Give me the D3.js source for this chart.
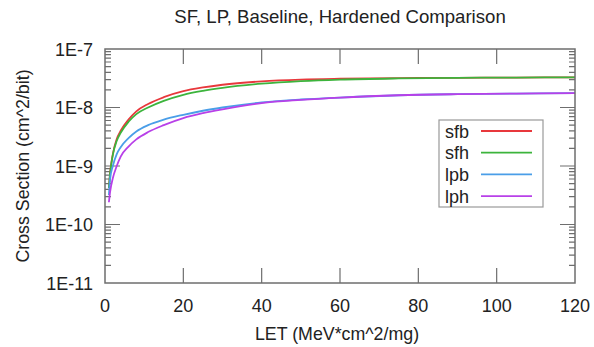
<!DOCTYPE html>
<html lang="en">
<head>
  <meta charset="utf-8">
  <title>SF, LP, Baseline, Hardened Comparison</title>
  <script src="https://d3js.org/d3.v7.min.js"></script>
  <style>
    body { margin: 0; background: #fff; }
    text { font-family: "Liberation Sans", Arial, Helvetica, sans-serif; fill: #222; }
  </style>
</head>
<body>
  <script>
    var letValues = [1, 1.3, 2, 3, 4, 6, 8, 11, 15, 20, 25, 30, 40, 50, 60, 75, 90, 105, 120];

    // cross sections (cm^2/bit), one list per series
    var sfb = [4.2e-10, 7.6e-10, 1.6e-9, 2.9e-9, 4.0e-9, 6.2e-9, 8.6e-9, 1.15e-8, 1.5e-8, 1.9e-8, 2.2e-8, 2.45e-8, 2.8e-8, 3.0e-8, 3.1e-8, 3.18e-8, 3.22e-8, 3.25e-8, 3.27e-8];
    var sfh = [4.2e-10, 7.4e-10, 1.55e-9, 2.7e-9, 3.7e-9, 5.7e-9, 7.7e-9, 1.0e-8, 1.3e-8, 1.65e-8, 1.93e-8, 2.17e-8, 2.55e-8, 2.82e-8, 3.0e-8, 3.14e-8, 3.21e-8, 3.25e-8, 3.27e-8];
    var lpb = [3.2e-10, 6.0e-10, 1.0e-9, 1.6e-9, 2.1e-9, 3.0e-9, 3.9e-9, 5.0e-9, 6.2e-9, 7.5e-9, 8.8e-9, 1.0e-8, 1.22e-8, 1.37e-8, 1.48e-8, 1.62e-8, 1.69e-8, 1.73e-8, 1.76e-8];
    var lph = [2.4e-10, 3.6e-10, 6.2e-10, 1.0e-9, 1.45e-9, 2.15e-9, 2.85e-9, 3.8e-9, 5.0e-9, 6.6e-9, 8.0e-9, 9.3e-9, 1.19e-8, 1.35e-8, 1.48e-8, 1.62e-8, 1.69e-8, 1.73e-8, 1.76e-8];

    var seriesNames = ["sfb", "sfh", "lpb", "lph"];
    var seriesColors = ["#e8383c", "#3cb43c", "#4a9ee8", "#b840e8"];
    var seriesData = [sfb, sfh, lpb, lph];

    var xTicks = [0, 20, 40, 60, 80, 100, 120];
    var yTicks = [1e-11, 1e-10, 1e-9, 1e-8, 1e-7];
    var yTickLabels = ["1E-11", "1E-10", "1E-9", "1E-8", "1E-7"];

    var width = 594;
    var height = 347;
    var margin = { left: 105, right: 19, top: 49, bottom: 64 };

    var svg = d3.select("body")
      .append("svg")
      .attr("width", width)
      .attr("height", height);

    svg.append("rect").attr("width", width).attr("height", height).attr("fill", "#fff");

    var x = d3.scaleLinear()
      .domain([0, 120])
      .range([margin.left, width - margin.right]);

    var y = d3.scaleLog()
      .domain([1e-11, 1e-7])
      .range([height - margin.bottom, margin.top]);

    var axisColor = "#6e6e6e";
    var majorLen = 15, minorLen = 6;

    // minor log ticks 2..9 in every decade
    var minorTicks = [];
    yTicks.slice(0, -1).forEach(function (d) {
      for (var k = 2; k <= 9; k++) minorTicks.push(d * k);
    });

    var ticks = svg.append("g").attr("stroke", axisColor).attr("stroke-width", 1.2);

    // x ticks, bottom and top (inward)
    ticks.selectAll(".xt").data(xTicks.slice(1, -1)).enter().append("path")
      .attr("d", function (d) {
        return "M" + x(d) + "," + y.range()[0] + "v" + (-majorLen) +
               "M" + x(d) + "," + y.range()[1] + "v" + majorLen;
      });

    // y major ticks, left and right
    ticks.selectAll(".yt").data(yTicks.slice(1, -1)).enter().append("path")
      .attr("d", function (d) {
        return "M" + x.range()[0] + "," + y(d) + "h" + majorLen +
               "M" + x.range()[1] + "," + y(d) + "h" + (-majorLen);
      });

    // y minor ticks
    ticks.selectAll(".ym").data(minorTicks).enter().append("path")
      .attr("d", function (d) {
        return "M" + x.range()[0] + "," + y(d) + "h" + minorLen +
               "M" + x.range()[1] + "," + y(d) + "h" + (-minorLen);
      });

    // curves
    var line = d3.line()
      .x(function (d) { return x(d[0]); })
      .y(function (d) { return y(d[1]); })
      .curve(d3.curveMonotoneX);

    var plot = svg.append("g");
    seriesData.forEach(function (vals, i) {
      plot.append("path")
        .datum(letValues.map(function (v, j) { return [v, vals[j]]; }))
        .attr("fill", "none")
        .attr("stroke", seriesColors[i])
        .attr("stroke-width", 1.8)
        .attr("d", line);
    });

    // border
    svg.append("rect")
      .attr("x", x.range()[0])
      .attr("y", y.range()[1])
      .attr("width", x.range()[1] - x.range()[0])
      .attr("height", y.range()[0] - y.range()[1])
      .attr("fill", "none")
      .attr("stroke", axisColor)
      .attr("stroke-width", 1.5);

    // tick labels
    svg.selectAll(".xl").data(xTicks).enter().append("text")
      .attr("x", function (d) { return x(d); })
      .attr("y", 312)
      .attr("text-anchor", "middle")
      .style("font-size", "18px")
      .text(function (d) { return d; });

    svg.selectAll(".yl").data(yTicks).enter().append("text")
      .attr("x", 93)
      .attr("y", function (d) { return y(d) + 6.5; })
      .attr("text-anchor", "end")
      .style("font-size", "18px")
      .text(function (d, i) { return yTickLabels[i]; });

    // titles
    svg.append("text")
      .attr("x", 340).attr("y", 23)
      .attr("text-anchor", "middle")
      .style("font-size", "18.6px")
      .text("SF, LP, Baseline, Hardened Comparison");

    svg.append("text")
      .attr("x", 337).attr("y", 340)
      .attr("text-anchor", "middle")
      .style("font-size", "17.8px")
      .text("LET (MeV*cm^2/mg)");

    svg.append("text")
      .attr("transform", "translate(29,166) rotate(-90)")
      .attr("text-anchor", "middle")
      .style("font-size", "17.8px")
      .text("Cross Section (cm^2/bit)");

    // legend
    var legend = svg.append("g");
    legend.append("rect")
      .attr("x", 439).attr("y", 120)
      .attr("width", 104).attr("height", 87)
      .attr("fill", "#fff")
      .attr("stroke", "#999")
      .attr("stroke-width", 1.2);

    seriesNames.forEach(function (name, i) {
      var ly = 131 + i * 21.7;
      legend.append("text")
        .attr("x", 445).attr("y", ly + 6.5)
        .style("font-size", "18px")
        .text(name);
      legend.append("line")
        .attr("x1", 481).attr("x2", 532)
        .attr("y1", ly).attr("y2", ly)
        .attr("stroke", seriesColors[i])
        .attr("stroke-width", 1.8);
    });
  </script>
</body>
</html>
